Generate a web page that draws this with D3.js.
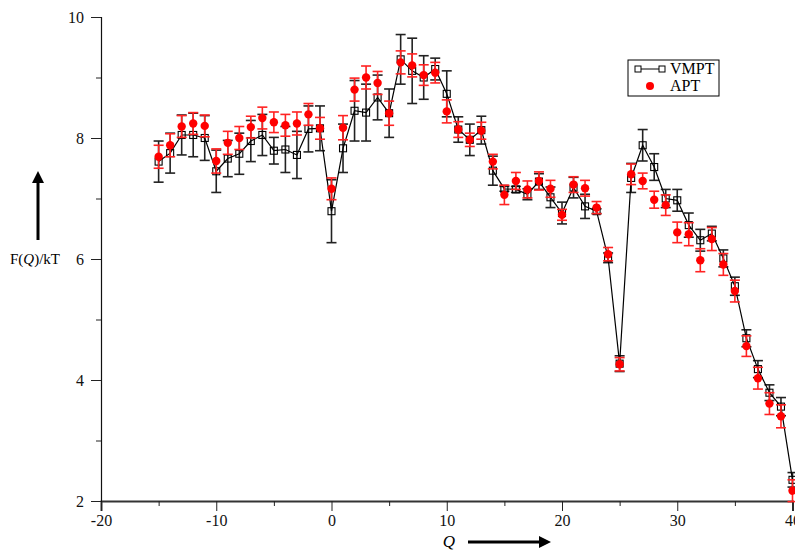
<!DOCTYPE html>
<html>
<head>
<meta charset="utf-8">
<script src="https://cdn.jsdelivr.net/npm/d3@7"></script>
<style>
body { margin: 0; background: #fff; }
text { font-family: "Liberation Serif", "DejaVu Serif", serif; }
</style>
</head>
<body>
<div id="chart"></div>
<script>
const qValues = [-15, -14, -13, -12, -11, -10, -9, -8, -7, -6, -5, -4, -3, -2, -1, 0,
	1, 2, 3, 4, 5, 6, 7, 8, 9, 10, 11, 12, 13, 14, 15, 16, 17, 18, 19, 20,
	21, 22, 23, 24, 25, 26, 27, 28, 29, 30, 31, 32, 33, 34, 35, 36, 37, 38, 39, 40]

const vmpt = [7.61, 7.75, 8.05, 8.05, 8.00, 7.45, 7.66, 7.74, 7.95, 8.05, 7.79, 7.81, 7.72, 8.15, 8.16, 6.79,
	7.83, 8.45, 8.42, 8.67, 8.41, 9.30, 9.11, 9.00, 9.14, 8.73, 8.14, 7.97, 8.13, 7.46, 7.16, 7.15, 7.07, 7.28, 7.02, 6.76,
	7.18, 6.87, 6.79, 6.02, 4.27, 7.34, 7.88, 7.52, 7.00, 6.97, 6.56, 6.31, 6.42, 6.01, 5.55, 4.69, 4.18, 3.79, 3.56, 2.35]
const vmptErr = [0.34, 0.33, 0.33, 0.36, 0.37, 0.35, 0.30, 0.34, 0.34, 0.34, 0.22, 0.38, 0.39, 0.38, 0.37, 0.52,
	0.40, 0.50, 0.47, 0.37, 0.40, 0.41, 0.54, 0.36, 0.18, 0.38, 0.21, 0.26, 0.23, 0.24, 0.04, 0.05, 0.09, 0.13, 0.17, 0.18,
	0.17, 0.20, 0.04, 0.08, 0.13, 0.24, 0.26, 0.22, 0.15, 0.18, 0.20, 0.18, 0.12, 0.14, 0.15, 0.14, 0.14, 0.13, 0.15, 0.12]

const apt = [7.69, 7.88, 8.19, 8.24, 8.20, 7.62, 7.92, 8.00, 8.18, 8.33, 8.26, 8.21, 8.24, 8.39, 8.16, 7.16,
	8.17, 8.80, 9.00, 8.91, 8.41, 9.25, 9.20, 9.04, 9.08, 8.44, 8.14, 7.97, 8.12, 7.61, 7.06, 7.29, 7.15, 7.29, 7.16, 6.73,
	7.23, 7.17, 6.85, 6.08, 4.26, 7.40, 7.29, 6.98, 6.89, 6.44, 6.41, 5.98, 6.33, 5.91, 5.47, 4.56, 4.03, 3.61, 3.40, 2.17]
const aptErr = [0.19, 0.19, 0.18, 0.18, 0.18, 0.20, 0.19, 0.19, 0.18, 0.18, 0.17, 0.18, 0.19, 0.18, 0.18, 0.18,
	0.20, 0.19, 0.19, 0.19, 0.20, 0.19, 0.19, 0.17, 0.17, 0.19, 0.13, 0.11, 0.14, 0.12, 0.16, 0.14, 0.14, 0.15, 0.14, 0.09,
	0.13, 0.13, 0.10, 0.11, 0.11, 0.17, 0.13, 0.14, 0.17, 0.17, 0.19, 0.19, 0.19, 0.18, 0.18, 0.17, 0.18, 0.18, 0.19, 0.18]

const xTicks = [-20, -10, 0, 10, 20, 30, 40]
const yTicks = [2, 4, 6, 8, 10]
const legendLabels = ['VMPT', 'APT']

const width = 795, height = 551
const margin = {top: 17, right: 2.5, bottom: 50, left: 101}

const svg = d3.select('#chart').append('svg')
	.attr('width', width)
	.attr('height', height)

const x = d3.scaleLinear().domain([-20, 40]).range([margin.left, width - margin.right])
const y = d3.scaleLinear().domain([2, 10]).range([height - margin.bottom, margin.top])

const rows = qValues.map((q, i) => ({q: q, v: vmpt[i], ve: vmptErr[i], a: apt[i], ae: aptErr[i]}))

// axes (plain hyphen for negatives, like the original)
const xAxis = svg.append('g')
	.attr('transform', `translate(0,${y(2)})`)
	.call(d3.axisBottom(x).tickValues(xTicks).tickFormat(d => String(d)).tickSize(10).tickPadding(4))
xAxis.select('.domain').attr('stroke', '#333').attr('stroke-width', 2)
xAxis.selectAll('.tick line').attr('stroke', '#222')
xAxis.selectAll('text').attr('font-size', 16).attr('fill', '#111')
svg.append('g')
	.attr('transform', `translate(0,${y(2)})`)
	.call(d3.axisBottom(x).tickValues(d3.range(-15, 40, 10)).tickFormat('').tickSize(5))
	.call(g => g.select('.domain').remove())
	.selectAll('.tick line').attr('stroke', '#222')

const yAxis = svg.append('g')
	.attr('transform', `translate(${x(-20)},0)`)
	.call(d3.axisLeft(y).tickValues(yTicks).tickSize(10).tickPadding(7))
yAxis.select('.domain').attr('stroke', '#111').attr('stroke-width', 1.2)
yAxis.selectAll('.tick line').attr('stroke', '#222')
yAxis.selectAll('text').attr('font-size', 16).attr('fill', '#111')
svg.append('g')
	.attr('transform', `translate(${x(-20)},0)`)
	.call(d3.axisLeft(y).tickValues([3, 5, 7, 9]).tickFormat('').tickSize(5))
	.call(g => g.select('.domain').remove())
	.selectAll('.tick line').attr('stroke', '#222')

// arrow marker
svg.append('defs').append('marker')
	.attr('id', 'arrow')
	.attr('viewBox', '0 0 10 10')
	.attr('refX', 5).attr('refY', 5)
	.attr('markerWidth', 4).attr('markerHeight', 4)
	.attr('orient', 'auto')
	.append('path').attr('d', 'M0,0 L10,5 L0,10 z').attr('fill', '#000')

// axis titles
const yTitle = svg.append('text').attr('x', 10).attr('y', 264).attr('font-size', 15)
yTitle.append('tspan').text('F(')
yTitle.append('tspan').attr('font-style', 'italic').text('Q')
yTitle.append('tspan').text(')/kT')
svg.append('line').attr('x1', 38).attr('x2', 38).attr('y1', 240).attr('y2', 177)
	.attr('stroke', '#000').attr('stroke-width', 3).attr('marker-end', 'url(#arrow)')

svg.append('text').attr('x', 449).attr('y', 547).attr('font-size', 17)
	.attr('font-style', 'italic').attr('text-anchor', 'middle').text('Q')
svg.append('line').attr('x1', 468).attr('x2', 545).attr('y1', 542).attr('y2', 542)
	.attr('stroke', '#000').attr('stroke-width', 3).attr('marker-end', 'url(#arrow)')

// error bars
function errorBars(key, errKey, color, cls) {
	const g = svg.append('g').attr('class', cls)
		.attr('stroke', color).attr('stroke-width', 1.6)
	const bars = g.selectAll('g').data(rows).enter().append('g')
	bars.append('line')
		.attr('x1', d => x(d.q)).attr('x2', d => x(d.q))
		.attr('y1', d => y(d[key] - d[errKey])).attr('y2', d => y(d[key] + d[errKey]))
	bars.append('line')
		.attr('x1', d => x(d.q) - 5).attr('x2', d => x(d.q) + 5)
		.attr('y1', d => y(d[key] + d[errKey])).attr('y2', d => y(d[key] + d[errKey]))
	bars.append('line')
		.attr('x1', d => x(d.q) - 5).attr('x2', d => x(d.q) + 5)
		.attr('y1', d => y(d[key] - d[errKey])).attr('y2', d => y(d[key] - d[errKey]))
}

errorBars('v', 've', '#222', 'err-vmpt')

const line = d3.line().x(d => x(d.q)).y(d => y(d.v))
svg.append('path').datum(rows)
	.attr('d', line)
	.attr('fill', 'none')
	.attr('stroke', '#000')
	.attr('stroke-width', 1.2)

svg.append('g').selectAll('rect').data(rows).enter().append('rect')
	.attr('x', d => x(d.q) - 3.5).attr('y', d => y(d.v) - 3.5)
	.attr('width', 7).attr('height', 7)
	.attr('fill', 'none').attr('stroke', '#000').attr('stroke-width', 1.1)

errorBars('a', 'ae', '#f22', 'err-apt')

svg.append('g').selectAll('circle').data(rows).enter().append('circle')
	.attr('cx', d => x(d.q)).attr('cy', d => y(d.a)).attr('r', 4.2)
	.attr('fill', '#f00')

// legend
const legend = svg.append('g')
legend.append('rect').attr('x', 628).attr('y', 60).attr('width', 91).attr('height', 36)
	.attr('fill', '#fff').attr('stroke', '#000').attr('stroke-width', 1)
legend.append('line').attr('x1', 638).attr('x2', 662).attr('y1', 69).attr('y2', 69)
	.attr('stroke', '#000').attr('stroke-width', 1)
legendLabels.forEach((l, i) => {
	legend.append('text').attr('x', 670).attr('y', 74 + i * 17).attr('font-size', 16).text(l)
})
legend.selectAll('.lsq').data([638, 662]).enter().append('rect')
	.attr('x', d => d - 3).attr('y', 66).attr('width', 6).attr('height', 6)
	.attr('fill', '#fff').attr('stroke', '#000')
legend.append('circle').attr('cx', 650).attr('cy', 86).attr('r', 4).attr('fill', '#f00')
</script>
</body>
</html>
